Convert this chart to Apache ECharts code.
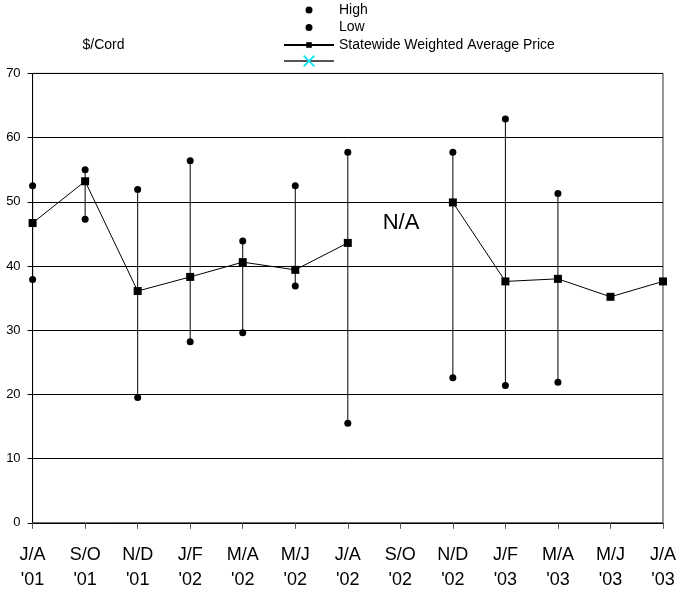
<!DOCTYPE html>
<html>
<head>
<meta charset="utf-8">
<script src="https://cdn.jsdelivr.net/npm/echarts@6/dist/echarts.min.js"></script>
<style>
  html, body { margin: 0; padding: 0; background: #fff; }
  #chart { width: 680px; height: 595px; }
</style>
</head>
<body>
<div id="chart"></div>
<script>
// Bimonthly periods, July/August 2001 through July/August 2003
const categories = [
  "J/A\n'01", "S/O\n'01", "N/D\n'01", "J/F\n'02", "M/A\n'02", "M/J\n'02", "J/A\n'02",
  "S/O\n'02", "N/D\n'02", "J/F\n'03", "M/A\n'03", "M/J\n'03", "J/A\n'03"
];

// Price per cord ($); null where no figure was reported
const highPrice = [52.5, 55.0, 51.9, 56.4, 43.9, 52.5, 57.7, null, 57.7, 62.9, 51.3, null, null];
const lowPrice  = [37.9, 47.3, 19.5, 28.2, 29.6, 36.9, 15.5, null, 22.6, 21.4, 21.9, null, null];
const avgPrice  = [46.7, 53.2, 36.1, 38.3, 40.6, 39.4, 43.6, null, 49.9, 37.6, 38.0, 35.2, 37.6];

const yTicks = { min: 0, max: 70, interval: 10 };

const FONT = '"Liberation Sans", Arial, sans-serif';
const toSeries = arr => arr.map(v => (v == null ? '-' : v));

// high–low range segments: [categoryIndex, high, low]
const rangeData = [];
categories.forEach((c, i) => {
  if (highPrice[i] != null && lowPrice[i] != null) rangeData.push([i, highPrice[i], lowPrice[i]]);
});

const crossPath = 'path://M0,1 L1,0 L5,4 L9,0 L10,1 L6,5 L10,9 L9,10 L5,6 L1,10 L0,9 L4,5 Z';

const chart = echarts.init(document.getElementById('chart'), null, { renderer: 'canvas' });

chart.setOption({
  animation: false,
  backgroundColor: '#fff',
  textStyle: { fontFamily: FONT, color: '#000' },
  grid: {
    left: 32.6, right: 17, top: 73.4, bottom: 72.2,
    containLabel: false,
    show: true, borderColor: '#333', borderWidth: 1, backgroundColor: '#fff'
  },
  legend: [
    {
      data: ['High', 'Low', 'Statewide Weighted Average Price'],
      orient: 'vertical',
      left: 283, top: 3,
      itemWidth: 50, itemHeight: 7, itemGap: 3.5,
      selectedMode: false,
      textStyle: { fontFamily: FONT, fontSize: 14, color: '#000' },
      padding: 0
    },
    {
      data: [' '],
      orient: 'vertical',
      left: 283, top: 54,
      itemWidth: 50, itemHeight: 15,
      selectedMode: false,
      textStyle: { fontFamily: FONT, fontSize: 14, color: '#000' },
      padding: 0
    }
  ],
  xAxis: {
    type: 'category',
    data: categories,
    boundaryGap: false,
    axisLine: { lineStyle: { color: '#000', width: 1 } },
    axisTick: { show: true, inside: false, length: 6, lineStyle: { color: '#555' } },
    axisLabel: {
      fontFamily: FONT, fontSize: 18, lineHeight: 25, color: '#000',
      margin: 20, interval: 0
    },
    splitLine: { show: false }
  },
  yAxis: {
    type: 'value',
    min: yTicks.min, max: yTicks.max, interval: yTicks.interval,
    axisLine: { show: true, lineStyle: { color: '#000', width: 1 } },
    axisTick: { show: true, inside: false, length: 5, lineStyle: { color: '#000' } },
    axisLabel: { fontFamily: FONT, fontSize: 13, color: '#000', margin: 12 },
    splitLine: { show: true, lineStyle: { color: '#000', width: 1 } }
  },
  series: [
    {
      name: 'range',
      type: 'custom',
      data: rangeData,
      encode: { x: 0, y: [1, 2] },
      z: 2,
      silent: true,
      renderItem: (params, api) => {
        const idx = api.value(0);
        const top = api.coord([idx, api.value(1)]);
        const bot = api.coord([idx, api.value(2)]);
        return {
          type: 'line',
          shape: { x1: top[0], y1: top[1], x2: bot[0], y2: bot[1] },
          style: { stroke: '#000', lineWidth: 1 }
        };
      }
    },
    {
      name: 'Statewide Weighted Average Price',
      type: 'line',
      data: toSeries(avgPrice),
      connectNulls: false,
      symbol: 'rect',
      symbolSize: 8,
      showAllSymbol: true,
      itemStyle: { color: '#000', opacity: 1 },
      lineStyle: { color: '#000', width: 1 },
      z: 3
    },
    {
      name: 'High',
      type: 'scatter',
      data: toSeries(highPrice),
      symbol: 'circle',
      symbolSize: 7,
      itemStyle: { color: '#000', opacity: 1 },
      z: 4
    },
    {
      name: 'Low',
      type: 'scatter',
      data: toSeries(lowPrice),
      symbol: 'circle',
      symbolSize: 7,
      itemStyle: { color: '#000', opacity: 1 },
      z: 4
    },
    {
      name: ' ',
      type: 'line',
      data: [],
      symbol: crossPath,
      symbolSize: 10,
      itemStyle: { color: '#00e5ee', opacity: 1 },
      lineStyle: { color: '#555', width: 1.5 }
    }
  ],
  graphic: [
    {
      type: 'text', x: 82.5, y: 45,
      style: { text: '$/Cord', fontFamily: FONT, fontSize: 14, fill: '#000', verticalAlign: 'middle' }
    },
    {
      type: 'text', x: 401, y: 223,
      style: { text: 'N/A', fontFamily: FONT, fontSize: 22, fill: '#000', align: 'center', verticalAlign: 'middle' }
    }
  ]
});
</script>
</body>
</html>
